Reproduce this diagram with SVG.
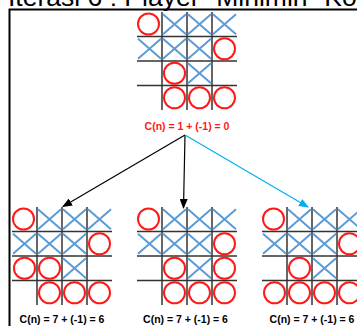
<svg xmlns="http://www.w3.org/2000/svg" width="357" height="326" viewBox="0 0 357 326">
  <style>
    .grid { stroke: #333; stroke-width: 1.5; }
    .o { fill: none; stroke: #ff1a1a; stroke-width: 2; }
    .x { stroke: #5b9bd5; stroke-width: 2; stroke-linecap: butt; }
    .lbl { font-family: "Liberation Sans", Arial, sans-serif; font-weight: bold; font-size: 10.5px; text-anchor: middle; }
    .title { font-family: "Liberation Sans", Arial, sans-serif; font-size: 26.5px; }
    .edge { fill: none; stroke-width: 1.2; }
  </style>
  <defs>
    <!-- empty 4x4 board, 25 x 24.5 cells -->
    <g id="grid">
      <line class="grid" x1="0" y1="24.5" x2="100" y2="24.5"/>
      <line class="grid" x1="0" y1="49" x2="100" y2="49"/>
      <line class="grid" x1="0" y1="73.5" x2="100" y2="73.5"/>
      <line class="grid" x1="25" y1="0" x2="25" y2="98"/>
      <line class="grid" x1="50" y1="0" x2="50" y2="98"/>
      <line class="grid" x1="75" y1="0" x2="75" y2="98"/>
    </g>
    <g id="O"><circle class="o" cx="0" cy="0" r="10.5"/></g>
    <g id="X">
      <line class="x" x1="-11.5" y1="-10" x2="11.5" y2="10"/>
      <line class="x" x1="-11.5" y1="10" x2="11.5" y2="-10"/>
    </g>
    <!-- marks shared by every board -->
    <g id="base">
      <use href="#grid"/>
      <use href="#O" x="11.5" y="12"/>
      <use href="#X" x="37.5" y="12.25"/>
      <use href="#X" x="62.5" y="12.25"/>
      <use href="#X" x="87.5" y="12.25"/>
      <use href="#X" x="12.5" y="36.75"/>
      <use href="#X" x="37.5" y="36.75"/>
      <use href="#X" x="62.5" y="36.75"/>
      <use href="#O" x="87.5" y="36.75"/>
      <use href="#O" x="37.5" y="61.25"/>
      <use href="#X" x="62.5" y="61.25"/>
      <use href="#O" x="37.5" y="85.75"/>
      <use href="#O" x="62.5" y="85.75"/>
      <use href="#O" x="87.5" y="85.75"/>
    </g>
    <marker id="ah" markerWidth="10" markerHeight="8" refX="9" refY="4" orient="auto" markerUnits="userSpaceOnUse">
      <path d="M0,0 L10,4 L0,8 Z" fill="#000"/>
    </marker>
    <marker id="ahb" markerWidth="10" markerHeight="8" refX="9" refY="4" orient="auto" markerUnits="userSpaceOnUse">
      <path d="M0,0 L10,4 L0,8 Z" fill="#00b0f0"/>
    </marker>
  </defs>

  <text class="title" x="8" y="6">Iterasi 6 : Player "Minimin" Kota</text>
  <rect x="9.5" y="9.5" width="360" height="330" fill="none" stroke="#000" stroke-width="2"/>

  <g id="root">
    <use href="#base" x="137" y="12"/>
    <text class="lbl" x="187" y="130" fill="#ff1a1a">C(n) = 1 + (-1) = 0</text>
  </g>

  <g id="connectors">
    <line class="edge" x1="185" y1="135" x2="63" y2="206.5" stroke="#000" marker-end="url(#ah)"/>
    <line class="edge" x1="185" y1="135" x2="183.5" y2="208" stroke="#000" marker-end="url(#ah)"/>
    <line class="edge" x1="185" y1="135" x2="308" y2="207" stroke="#00b0f0" marker-end="url(#ahb)"/>
  </g>

  <g id="child-left">
    <use href="#base" x="12" y="207"/>
    <use href="#O" x="24.5" y="268.25"/>
    <text class="lbl" x="62" y="323" fill="#000">C(n) = 7 + (-1) = 6</text>
  </g>

  <g id="child-middle">
    <use href="#base" x="137" y="207"/>
    <use href="#O" x="224.5" y="268.25"/>
    <text class="lbl" x="185.5" y="323" fill="#000">C(n) = 7 + (-1) = 6</text>
  </g>

  <g id="child-right">
    <use href="#base" x="262" y="207"/>
    <use href="#O" x="274.5" y="292.75"/>
    <text class="lbl" x="312" y="323" fill="#000">C(n) = 7 + (-1) = 6</text>
  </g>
</svg>
